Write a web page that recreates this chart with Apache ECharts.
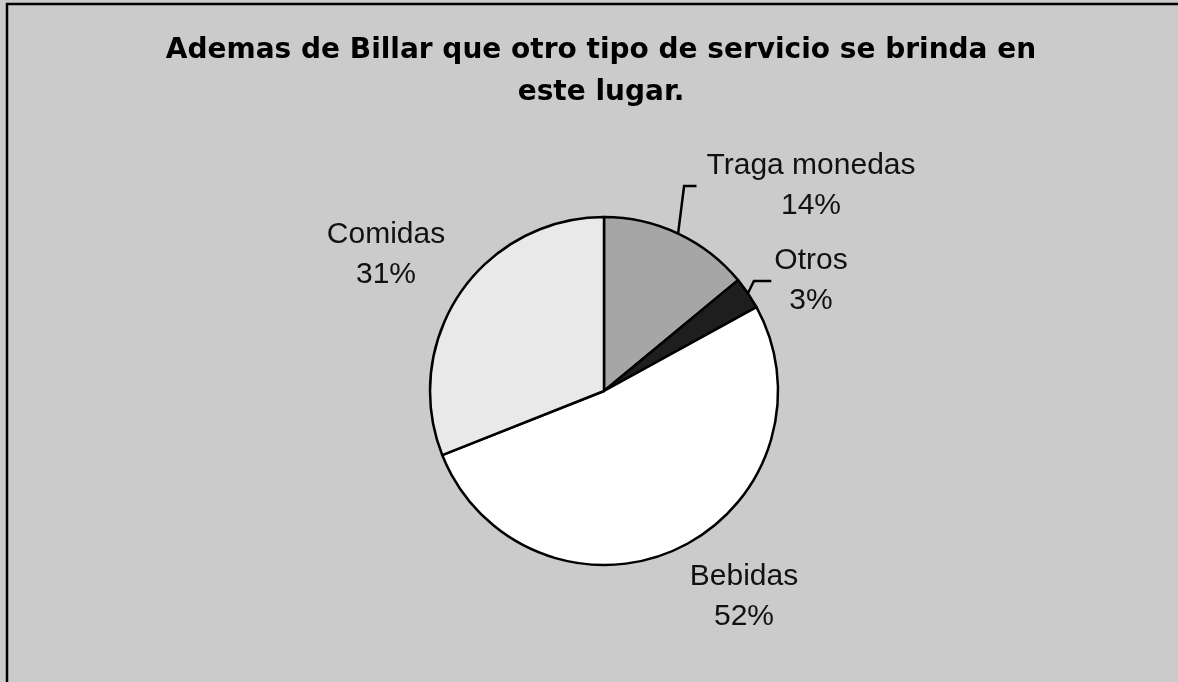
<!DOCTYPE html>
<html>
<head>
<meta charset="utf-8">
<script src="https://cdn.jsdelivr.net/npm/echarts@6/dist/echarts.min.js"></script>
<style>
  html, body { margin: 0; padding: 0; background: #cbcbcb; }
  #main { width: 1178px; height: 682px; }
</style>
</head>
<body>
<div id="main"></div>
<script>
// datos del grafico
var categorias = ['Traga monedas', 'Otros', 'Bebidas', 'Comidas'];
var valores = [14, 3, 52, 31];
var colores = ['#a6a6a6', '#1e1e1e', '#ffffff', '#e9e9e9'];
// centro de cada etiqueta (px) y separacion de la linea guia
var posEtiquetas = [[811, 186], [811, 281], [744, 597], [386, 255]];
var separacion = [10, 3, 0, 0];

var myChart = echarts.init(document.getElementById('main'));

var datos = categorias.map(function (c, i) {
    return {
        name: c,
        value: valores[i],
        itemStyle: { color: colores[i] },
        labelLine: { show: i < 2 }
    };
});

var option = {
    backgroundColor: '#cbcbcb',
    animation: false,
    title: {
        text: 'Ademas de Billar que otro tipo de servicio se brinda en\neste lugar.',
        left: 596,
        textAlign: 'center',
        top: 25,
        textStyle: {
            fontFamily: 'DejaVu Sans',
            fontWeight: 'bold',
            fontSize: 28,
            lineHeight: 42,
            color: '#000'
        }
    },
    graphic: [{
        type: 'rect',
        shape: { x: 7, y: 4, width: 1190, height: 700 },
        style: { fill: 'none', stroke: '#000', lineWidth: 2.5 },
        silent: true
    }],
    series: [{
        name: 'Servicios',
        type: 'pie',
        radius: 174,
        center: [604, 391],
        startAngle: 90,
        clockwise: true,
        data: datos,
        itemStyle: {
            borderColor: '#000',
            borderWidth: 2.5
        },
        label: {
            show: true,
            position: 'outside',
            formatter: '{b}\n{d}%',
            fontFamily: 'Liberation Sans',
            fontSize: 30,
            lineHeight: 40,
            color: '#111',
            align: 'center'
        },
        labelLine: {
            show: true,
            length: 12,
            length2: 10,
            lineStyle: { color: '#000', width: 2.5 }
        },
        labelLayout: function (params) {
            var i = params.dataIndex;
            var p = posEtiquetas[i];
            var res = { x: p[0], y: p[1], align: 'center', verticalAlign: 'middle' };
            if (params.labelLinePoints && i < 2) {
                // linea estilo Excel: casi vertical y luego horizontal hacia la etiqueta
                var a = params.labelLinePoints[0];
                var izq = p[0] - params.labelRect.width / 2 - separacion[i];
                res.labelLinePoints = [a, [a[0] + 6, p[1]], [izq, p[1]]];
            }
            return res;
        }
    }]
};

myChart.setOption(option);
</script>
</body>
</html>
